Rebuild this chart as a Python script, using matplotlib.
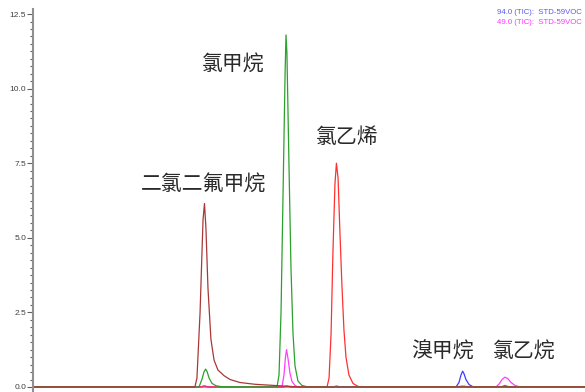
import matplotlib
matplotlib.use('Agg')
import matplotlib.pyplot as plt
from matplotlib.ticker import MultipleLocator

plt.rcParams['font.family'] = ['Noto Sans CJK SC', 'DejaVu Sans']

# 각 이온 크로마토그램 (시간 min, 세기)
brown_t = [1.000, 1.880, 1.891, 1.908, 1.924, 1.932, 1.940, 1.951, 1.967, 1.984, 2.005, 2.038, 2.071, 2.125, 2.207, 2.288, 2.342, 2.397, 2.451, 4.000]
brown_y = [0.0, 0.0, 0.3, 2.5, 5.6, 6.15, 5.3, 3.3, 1.6, 0.9, 0.57, 0.38, 0.25, 0.15, 0.09, 0.06, 0.04, 0.02, 0.0, 0.0]

green_t = [1.000, 1.902, 1.918, 1.929, 1.938, 1.946, 1.957, 1.973, 1.995, 2.027, 2.326, 2.337, 2.348, 2.359, 2.370, 2.375, 2.380, 2.391, 2.402, 2.413, 2.424, 2.440, 2.462, 2.495, 4.000]
green_y = [0.0, 0.0, 0.25, 0.5, 0.6, 0.52, 0.3, 0.12, 0.04, 0.01, 0.0, 0.4, 2.5, 6.5, 10.5, 11.8, 11.2, 7.5, 4.0, 1.8, 0.7, 0.2, 0.05, 0.0, 0.0]

red_t = [1.000, 2.598, 2.609, 2.620, 2.630, 2.641, 2.649, 2.658, 2.668, 2.679, 2.690, 2.701, 2.717, 2.739, 2.766, 2.793, 3.290, 3.335, 3.380, 3.540, 3.565, 3.590, 4.000]
red_y = [0.0, 0.0, 0.3, 1.8, 4.5, 6.8, 7.5, 7.0, 5.2, 3.4, 1.9, 1.0, 0.4, 0.12, 0.02, 0.0, 0.0, 0.03, 0.0, 0.0, 0.05, 0.0, 0.0]

blue_t = [1.000, 1.900, 1.930, 1.960, 2.360, 2.380, 2.400, 2.630, 2.650, 2.670, 3.299, 3.315, 3.326, 3.335, 3.342, 3.353, 3.370, 3.391, 4.000]
blue_y = [0.0, 0.0, 0.03, 0.0, 0.0, 0.03, 0.0, 0.0, 0.03, 0.0, 0.0, 0.15, 0.4, 0.53, 0.45, 0.25, 0.08, 0.01, 0.0]

magenta_t = [1.000, 1.920, 1.932, 1.945, 2.353, 2.364, 2.372, 2.378, 2.386, 2.397, 2.408, 2.424, 2.440, 3.516, 3.533, 3.549, 3.565, 3.582, 3.598, 3.620, 3.647, 4.000]
magenta_y = [0.0, 0.0, 0.05, 0.0, 0.0, 0.4, 1.0, 1.25, 0.95, 0.45, 0.18, 0.05, 0.0, 0.0, 0.1, 0.25, 0.33, 0.27, 0.15, 0.05, 0.0, 0.0]

# 피크 이름 (표시 위치: 시간, 세기)
peak_names = ['氯甲烷', '氯乙烯', '二氯二氟甲烷', '溴甲烷', '氯乙烷']
name_t = [2.087, 2.707, 1.927, 3.223, 3.668]
name_y = [10.79, 8.38, 6.77, 1.17, 1.17]

legend_texts = ['94.0 (TIC):  STD-59VOC', '49.0 (TIC):  STD-59VOC']
legend_colors = ['#5a5ae6', '#ff33ff']

fig = plt.figure(figsize=(5.85, 3.92), dpi=100)
ax = fig.add_axes([33 / 585, 0, 1 - 33 / 585, 383 / 392])

ax.plot(blue_t, blue_y, color='#3c3cff', lw=0.9)
ax.plot(magenta_t, magenta_y, color='#ff3cff', lw=0.9)
ax.plot(red_t, red_y, color='#ff3030', lw=0.9)
ax.plot(green_t, green_y, color='#2ca02c', lw=0.9)
ax.plot(brown_t, brown_y, color='#a83838', lw=0.9)

for name, t, y in zip(peak_names, name_t, name_y):
    ax.text(t, y, name, ha='center', va='center', fontsize=15, color='#2a2a2a',
            fontweight='light')

ax.set_xlim(1.0, 4.0)
ax.set_ylim(-0.168, 12.67)
ax.yaxis.set_major_locator(MultipleLocator(2.5))
ax.yaxis.set_minor_locator(MultipleLocator(0.25))
ax.yaxis.set_major_formatter(plt.FuncFormatter(lambda v, p: '%.1f' % v))
ax.tick_params(axis='y', which='major', length=4, width=0.8, color='#606060',
               labelsize=6, labelcolor='#404040', pad=1)
ax.tick_params(axis='y', which='minor', length=2.5, width=0.8, color='#606060')
for lab in ax.get_yticklabels():
    lab.set_family(['Liberation Sans'])
ax.set_xticks([])
for s in ['top', 'right', 'bottom']:
    ax.spines[s].set_visible(False)
ax.spines['left'].set_color('#909090')
ax.spines['left'].set_linewidth(1.5)

# 오른쪽 위 이온 표시
for i, (txt, c) in enumerate(zip(legend_texts, legend_colors)):
    fig.text(582 / 585, 1 - (12.5 + 10.5 * i) / 392, txt, color=c, fontsize=5.6,
             ha='right', va='center', family=['Liberation Sans'])

fig.savefig('out.png', dpi=100)
